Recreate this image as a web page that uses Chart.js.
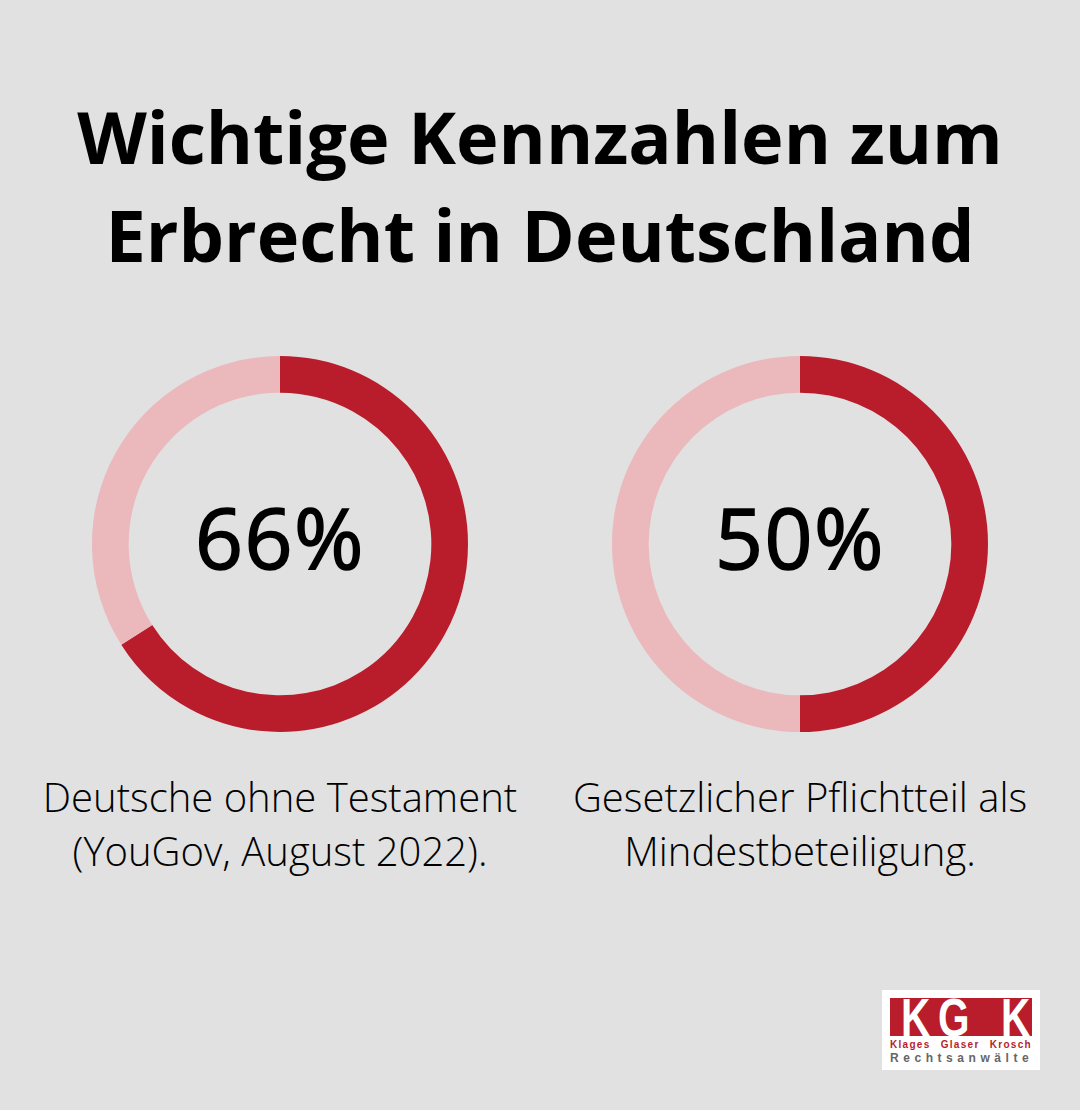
<!DOCTYPE html>
<html><head><meta charset="utf-8">
<script src="https://cdn.jsdelivr.net/npm/chart.js@4"></script>
<style>
html,body{margin:0;padding:0;background:#e1e1e1;width:1080px;height:1110px;overflow:hidden;font-family:"Open Sans",sans-serif;color:#000}
.t{position:absolute;left:0;width:1080px;text-align:center;font-weight:700;font-size:72px;line-height:98px;white-space:nowrap}
.c{position:absolute;width:400px;height:400px;top:344px}
.v{position:absolute;top:482px;width:400px;text-align:center;font-size:84px;line-height:110px;font-weight:400;letter-spacing:1.5px;-webkit-text-stroke:1.6px #000}
.l{position:absolute;width:520px;text-align:center;font-size:40px;font-weight:300;line-height:54px;top:770px;white-space:nowrap}
.logo{position:absolute;left:882px;top:990px;width:158px;height:80px;background:#fff;overflow:hidden}
.logo .r{position:absolute;left:8px;top:8px;width:142px;height:38px;background:#b91c2b;overflow:hidden}
.logo .k{position:absolute;top:-4px;color:#fff;font:700 54px "Liberation Sans",sans-serif;line-height:46px;transform:scaleX(.75);transform-origin:0 0}
.logo .a{position:absolute;left:8px;top:49px;width:142px;display:flex;justify-content:space-between;color:#b91c2b;font:700 10px "Liberation Sans",sans-serif;letter-spacing:1.3px;line-height:12px}
.logo .b{position:absolute;left:8px;top:62px;width:146px;color:#666;font:700 12px "Liberation Sans",sans-serif;letter-spacing:4.55px;line-height:13px;white-space:nowrap}
</style></head><body>
<div class="t" style="top:87px">Wichtige Kennzahlen zum</div>
<div class="t" style="top:185px">Erbrecht in Deutschland</div>
<div class="c" style="left:80px"><canvas id="a" width="400" height="400"></canvas></div>
<div class="c" style="left:600px"><canvas id="b" width="400" height="400"></canvas></div>
<div class="v" id="va" style="left:80px"></div>
<div class="v" id="vb" style="left:600px"></div>
<div class="l" style="left:20px">Deutsche ohne Testament<br>(YouGov, August 2022).</div>
<div class="l" style="left:540px">Gesetzlicher Pflichtteil als<br>Mindestbeteiligung.</div>
<div class="logo"><div class="r">
<div class="k" style="left:11px">K</div><div class="k" style="left:48px">G</div><div class="k" style="left:111px">K</div></div>
<div class="a"><span>Klages</span><span>Glaser</span><span>Krosch</span></div><div class="b">Rechtsanwälte</div></div>
<script>
const categories = ["Anteil", "Rest"];
const valuesLeft = [66, 34];
const valuesRight = [50, 50];
const colors = ["#b91c2b", "#ebb8bc"];
function ring(id, vals, labelId){
  document.getElementById(labelId).textContent = vals[0] + "%";
  new Chart(document.getElementById(id), {
    type: "doughnut",
    data: {labels: categories, datasets: [{data: vals, backgroundColor: colors, borderWidth: 0}]},
    options: {responsive: false, animation: false, cutout: "80.5%", radius: 188,
      layout: {padding: 0},
      plugins: {legend: {display: false}, tooltip: {enabled: false}}}
  });
}
ring("a", valuesLeft, "va");
ring("b", valuesRight, "vb");
</script>
</body></html>
